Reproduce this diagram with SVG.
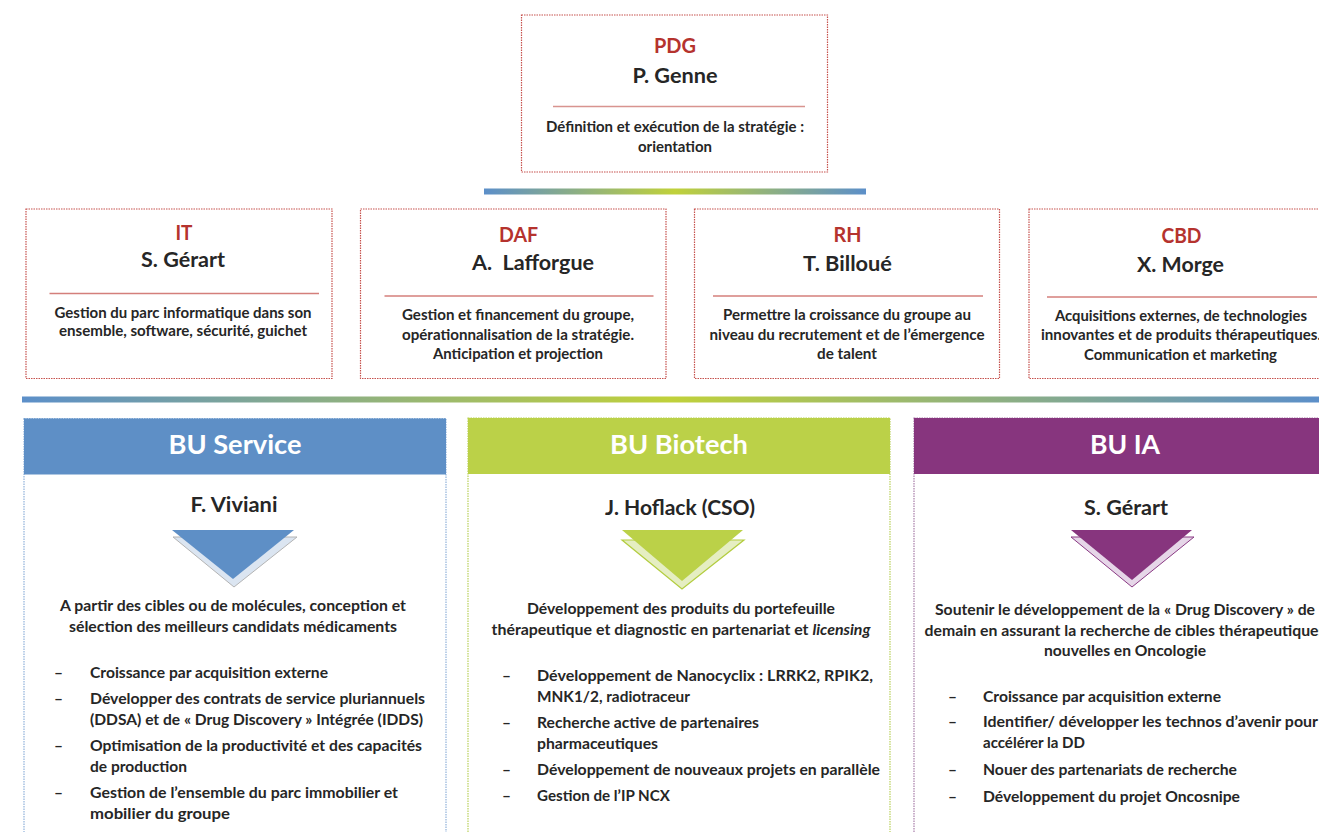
<svg xmlns="http://www.w3.org/2000/svg" width="1319" height="832" viewBox="0 0 1319 832">
<defs>
<linearGradient id="bar1" gradientUnits="userSpaceOnUse" x1="484" y1="0" x2="866" y2="0">
<stop offset="0" stop-color="#5c8fc9"/><stop offset="0.5" stop-color="#c0d13a"/><stop offset="1" stop-color="#5c8fc9"/>
</linearGradient>
<linearGradient id="bar2" gradientUnits="userSpaceOnUse" x1="22" y1="0" x2="1319" y2="0">
<stop offset="0" stop-color="#5c8fc9"/><stop offset="0.5" stop-color="#c0d13a"/><stop offset="1" stop-color="#5c8fc9"/>
</linearGradient>
</defs>
<style>
text{font-family:Lato,"Liberation Sans",sans-serif;font-weight:bold;fill:#262626}
.c{text-anchor:middle}
.ttl{font-size:21px;fill:#b5332e}
.nm{font-size:21px}
.d{font-size:14.7px}
.b{font-size:15.5px}
.hd{font-size:27.5px;fill:#ffffff}
.box{fill:#ffffff;stroke:#c6524e;stroke-width:1.2;stroke-dasharray:1.5 1}
.sep{stroke:#d47f7b;stroke-width:1.5}
.sepl{stroke:#d8948f;stroke-width:1.5}
</style>
<rect width="1319" height="832" fill="#ffffff"/>

<g id="connectors">
<rect x="484" y="188.5" width="382" height="6" fill="url(#bar1)"/>
<rect x="22" y="396.5" width="1297" height="6" fill="url(#bar2)"/>
</g>

<g id="pdg">
<rect class="box" x="521.5" y="15" width="306" height="157"/>
<text class="c ttl" x="675" y="53" textLength="42" lengthAdjust="spacingAndGlyphs">PDG</text>
<text class="c nm" x="675" y="83" textLength="85" lengthAdjust="spacingAndGlyphs">P. Genne</text>
<line class="sepl" x1="553" y1="106.5" x2="805" y2="106.5"/>
<text class="c d" x="675" y="131.5" textLength="258" lengthAdjust="spacingAndGlyphs">Définition et exécution de la stratégie :</text>
<text class="c d" x="675" y="151.5" textLength="74" lengthAdjust="spacingAndGlyphs">orientation</text>
</g>

<g id="it">
<rect class="box" x="26" y="209" width="306" height="169.5"/>
<text class="c ttl" x="184" y="239.5" textLength="17" lengthAdjust="spacingAndGlyphs">IT</text>
<text class="c nm" x="183" y="267" textLength="84" lengthAdjust="spacingAndGlyphs">S. Gérart</text>
<line class="sep" x1="49.5" y1="293.5" x2="319" y2="293.5"/>
<text class="c d" x="183" y="317.5" textLength="257" lengthAdjust="spacingAndGlyphs">Gestion du parc informatique dans son</text>
<text class="c d" x="183" y="336" textLength="248" lengthAdjust="spacingAndGlyphs">ensemble, software, sécurité, guichet</text>
</g>

<g id="daf">
<rect class="box" x="360.5" y="209" width="305.5" height="169.5"/>
<text class="c ttl" x="518.5" y="241.5" textLength="39" lengthAdjust="spacingAndGlyphs">DAF</text>
<text class="c nm" x="533" y="270" textLength="122" lengthAdjust="spacingAndGlyphs" xml:space="preserve">A.  Lafforgue</text>
<line class="sep" x1="384.5" y1="296" x2="653.5" y2="296"/>
<text class="c d" x="518" y="320" textLength="232" lengthAdjust="spacingAndGlyphs">Gestion et financement du groupe,</text>
<text class="c d" x="518" y="339.5" textLength="232" lengthAdjust="spacingAndGlyphs">opérationnalisation de la stratégie.</text>
<text class="c d" x="518" y="359" textLength="170" lengthAdjust="spacingAndGlyphs">Anticipation et projection</text>
</g>

<g id="rh">
<rect class="box" x="694.5" y="209" width="305" height="169.5"/>
<text class="c ttl" x="847.5" y="242" textLength="28" lengthAdjust="spacingAndGlyphs">RH</text>
<text class="c nm" x="847.5" y="270.5" textLength="89" lengthAdjust="spacingAndGlyphs">T. Billoué</text>
<line class="sep" x1="713" y1="296" x2="983" y2="296"/>
<text class="c d" x="847" y="320" textLength="248" lengthAdjust="spacingAndGlyphs">Permettre la croissance du groupe au</text>
<text class="c d" x="847" y="339.5" textLength="275" lengthAdjust="spacingAndGlyphs">niveau du recrutement et de l’émergence</text>
<text class="c d" x="847" y="359" textLength="60" lengthAdjust="spacingAndGlyphs">de talent</text>
</g>

<g id="cbd">
<rect class="box" x="1029" y="209" width="305" height="169.5"/>
<text class="c ttl" x="1181.5" y="243" textLength="40" lengthAdjust="spacingAndGlyphs">CBD</text>
<text class="c nm" x="1180.5" y="272" textLength="87" lengthAdjust="spacingAndGlyphs">X. Morge</text>
<line class="sep" x1="1047" y1="297" x2="1317" y2="297"/>
<text class="c d" x="1181" y="320.5" textLength="252" lengthAdjust="spacingAndGlyphs">Acquisitions externes, de technologies</text>
<text class="c d" x="1181" y="340" textLength="280" lengthAdjust="spacingAndGlyphs">innovantes et de produits thérapeutiques.</text>
<text class="c d" x="1180.5" y="359.5" textLength="193" lengthAdjust="spacingAndGlyphs">Communication et marketing</text>
</g>

<g id="bu-service">
<rect x="24" y="418.5" width="422" height="440" fill="#ffffff" stroke="#8fb1da" stroke-width="1.2" stroke-dasharray="1.5 1"/>
<rect x="24" y="418.5" width="422" height="56" fill="#5e8fc6"/>
<text class="c hd" x="235" y="454" textLength="133" lengthAdjust="spacingAndGlyphs">BU Service</text>
<text class="c nm" x="234" y="511.5" textLength="87" lengthAdjust="spacingAndGlyphs">F. Viviani</text>
<polygon points="173,537 297,537 234,587" fill="#dbe5f1" stroke="#b4b4b4" stroke-width="1"/>
<polygon points="172,530 294,530 233,579" fill="#5e8fc6"/>
<text class="c b" x="233" y="611" textLength="346" lengthAdjust="spacingAndGlyphs">A partir des cibles ou de molécules, conception et</text>
<text class="c b" x="233" y="632" textLength="328" lengthAdjust="spacingAndGlyphs">sélection des meilleurs candidats médicaments</text>
<text class="b" x="54" y="678">–</text>
<text class="b" x="90" y="678" textLength="238" lengthAdjust="spacingAndGlyphs">Croissance par acquisition externe</text>
<text class="b" x="54" y="704">–</text>
<text class="b" x="90" y="704" textLength="335" lengthAdjust="spacingAndGlyphs">Développer des contrats de service pluriannuels</text>
<text class="b" x="90" y="725" textLength="333" lengthAdjust="spacingAndGlyphs">(DDSA) et de « Drug Discovery » Intégrée (IDDS)</text>
<text class="b" x="54" y="751">–</text>
<text class="b" x="90" y="751" textLength="332" lengthAdjust="spacingAndGlyphs">Optimisation de la productivité et des capacités</text>
<text class="b" x="90" y="772" textLength="97" lengthAdjust="spacingAndGlyphs">de production</text>
<text class="b" x="54" y="798">–</text>
<text class="b" x="90" y="798" textLength="308" lengthAdjust="spacingAndGlyphs">Gestion de l’ensemble du parc immobilier et</text>
<text class="b" x="90" y="819" textLength="140" lengthAdjust="spacingAndGlyphs">mobilier du groupe</text>
</g>

<g id="bu-biotech">
<rect x="468" y="418" width="422" height="440" fill="#ffffff" stroke="#b9d15a" stroke-width="1.2" stroke-dasharray="1.5 1"/>
<rect x="468" y="418" width="422" height="56" fill="#bbd148"/>
<text class="c hd" x="679" y="453.5" textLength="138" lengthAdjust="spacingAndGlyphs">BU Biotech</text>
<text class="c nm" x="680" y="514.5" textLength="150" lengthAdjust="spacingAndGlyphs">J. Hoflack (CSO)</text>
<polygon points="622,540 744,540 682,589" fill="#e5eec2" stroke="#b3cd3f" stroke-width="1.2"/>
<polygon points="622,530 743,530 682,581" fill="#bbd148"/>
<text class="c b" x="681" y="614" textLength="308" lengthAdjust="spacingAndGlyphs">Développement des produits du portefeuille</text>
<text class="c b" x="681" y="635" textLength="379" lengthAdjust="spacingAndGlyphs">thérapeutique et diagnostic en partenariat et <tspan font-style="italic">licensing</tspan></text>
<text class="b" x="502" y="681">–</text>
<text class="b" x="537" y="681" textLength="336" lengthAdjust="spacingAndGlyphs">Développement de Nanocyclix : LRRK2, RPIK2,</text>
<text class="b" x="537" y="702" textLength="153" lengthAdjust="spacingAndGlyphs">MNK1/2, radiotraceur</text>
<text class="b" x="502" y="728">–</text>
<text class="b" x="537" y="728" textLength="222" lengthAdjust="spacingAndGlyphs">Recherche active de partenaires</text>
<text class="b" x="537" y="749" textLength="121" lengthAdjust="spacingAndGlyphs">pharmaceutiques</text>
<text class="b" x="502" y="775">–</text>
<text class="b" x="537" y="775" textLength="343" lengthAdjust="spacingAndGlyphs">Développement de nouveaux projets en parallèle</text>
<text class="b" x="502" y="801">–</text>
<text class="b" x="537" y="801" textLength="133" lengthAdjust="spacingAndGlyphs">Gestion de l’IP NCX</text>
</g>

<g id="bu-ia">
<rect x="914" y="418" width="422" height="440" fill="#ffffff" stroke="#a77ca8" stroke-width="1.2" stroke-dasharray="1.5 1"/>
<rect x="914" y="418" width="422" height="56" fill="#87357e"/>
<text class="c hd" x="1125" y="454" textLength="70" lengthAdjust="spacingAndGlyphs">BU IA</text>
<text class="c nm" x="1126" y="514.5" textLength="84" lengthAdjust="spacingAndGlyphs">S. Gérart</text>
<polygon points="1071,537 1194,537 1132,587" fill="#e6d6e8" stroke="#8a3a84" stroke-width="1"/>
<polygon points="1071,530 1192,530 1132,580" fill="#87357e"/>
<text class="c b" x="1125" y="615" textLength="380" lengthAdjust="spacingAndGlyphs">Soutenir le développement de la « Drug Discovery » de</text>
<text class="c b" x="1125" y="636" textLength="401" lengthAdjust="spacingAndGlyphs">demain en assurant la recherche de cibles thérapeutiques</text>
<text class="c b" x="1125" y="656" textLength="162" lengthAdjust="spacingAndGlyphs">nouvelles en Oncologie</text>
<text class="b" x="948" y="702">–</text>
<text class="b" x="983" y="702" textLength="238" lengthAdjust="spacingAndGlyphs">Croissance par acquisition externe</text>
<text class="b" x="948" y="727">–</text>
<text class="b" x="983" y="727" textLength="335" lengthAdjust="spacingAndGlyphs">Identifier/ développer les technos d’avenir pour</text>
<text class="b" x="983" y="748" textLength="102" lengthAdjust="spacingAndGlyphs">accélérer la DD</text>
<text class="b" x="948" y="775">–</text>
<text class="b" x="983" y="775" textLength="254" lengthAdjust="spacingAndGlyphs">Nouer des partenariats de recherche</text>
<text class="b" x="948" y="802">–</text>
<text class="b" x="983" y="802" textLength="257" lengthAdjust="spacingAndGlyphs">Développement du projet Oncosnipe</text>
</g>
</svg>
